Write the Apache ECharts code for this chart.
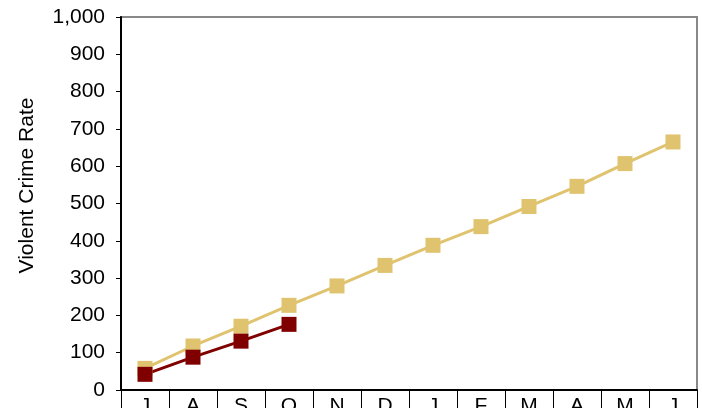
<!DOCTYPE html>
<html>
<head>
<meta charset="utf-8">
<script src="https://cdn.jsdelivr.net/npm/echarts@6/dist/echarts.min.js"></script>
<style>
html,body{margin:0;padding:0;background:#fff;}
#chart{width:702px;height:408px;}
</style>
</head>
<body>
<div id="chart"></div>
<script>
const categories = ['J','A','S','O','N','D','J','F','M','A','M','J'];
const projectedRate = [58, 118, 171, 227, 279, 334, 388, 438, 492, 546, 607, 665];
const actualRate = [42, 88, 131, 176, null, null, null, null, null, null, null, null];
const yTicks = { min: 0, max: 1000, interval: 100 };
const yAxisTitle = 'Violent Crime Rate';

const chart = echarts.init(document.getElementById('chart'));
const font = '"Liberation Sans", Arial, sans-serif';
chart.setOption({
  animation: false,
  grid: {
    left: 121, right: 5, top: 17, bottom: 18,
    outerBoundsMode: 'none',
    containLabel: false,
    show: true, borderColor: '#888', borderWidth: 2, backgroundColor: 'transparent'
  },
  xAxis: {
    type: 'category',
    data: categories,
    boundaryGap: true,
    axisLine: { lineStyle: { color: '#000', width: 2 } },
    axisTick: { show: true, length: 22, inside: false, lineStyle: { color: '#000', width: 1 } },
    axisLabel: { color: '#000', fontFamily: font, fontSize: 21, margin: 6 }
  },
  yAxis: {
    type: 'value',
    min: yTicks.min, max: yTicks.max, interval: yTicks.interval,
    splitLine: { show: false },
    axisLine: { show: true, lineStyle: { color: '#000', width: 2 } },
    axisTick: { show: true, length: 5, lineStyle: { color: '#000', width: 1 } },
    axisLabel: {
      color: '#000', fontFamily: font, fontSize: 21, margin: 16,
      formatter: v => v.toLocaleString('en-US')
    }
  },
  graphic: [{
    type: 'text',
    x: 27, y: 185.5,
    rotation: Math.PI / 2,
    style: {
      text: yAxisTitle,
      fill: '#000',
      font: '21px "Liberation Sans", Arial, sans-serif',
      align: 'center',
      verticalAlign: 'middle'
    }
  }],
  series: [
    {
      type: 'line',
      data: projectedRate,
      symbol: 'rect',
      symbolSize: 15,
      lineStyle: { color: '#E0C36F', width: 3 },
      itemStyle: { color: '#E0C36F' }
    },
    {
      type: 'line',
      data: actualRate,
      symbol: 'rect',
      symbolSize: 15,
      connectNulls: false,
      lineStyle: { color: '#800000', width: 3 },
      itemStyle: { color: '#800000' }
    }
  ]
});
</script>
</body>
</html>
